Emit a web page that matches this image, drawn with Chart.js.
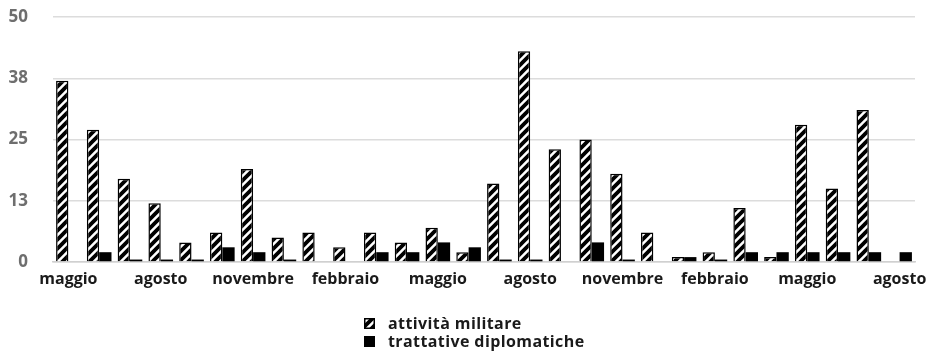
<!DOCTYPE html>
<html>
<head>
<meta charset="utf-8">
<script src="https://cdn.jsdelivr.net/npm/chart.js@4/dist/chart.umd.min.js"></script>
<style>
  html, body { margin: 0; padding: 0; background: #fff; }
  #wrap { position: relative; width: 932px; height: 354px; }
  #legend { position: absolute; left: 364px; top: 314px; font-family: "Open Sans", sans-serif; font-size: 16px; font-weight: 700; color: #1a1a1a; line-height: 18px; letter-spacing: 0.4px; }
  #legend .row { display: flex; align-items: center; }
  #legend canvas, #legend .sw { width: 11px; height: 11px; margin-right: 13px; display: block; }
  #legend .sw { background: #000; }
</style>
</head>
<body>
<div id="wrap">
  <canvas id="c" width="932" height="354"></canvas>
  <div id="legend"></div>
</div>
<script>
const months = ["maggio","giugno","luglio","agosto","settembre","ottobre","novembre","dicembre","gennaio","febbraio","marzo","aprile",
                "maggio","giugno","luglio","agosto","settembre","ottobre","novembre","dicembre","gennaio","febbraio","marzo","aprile",
                "maggio","giugno","luglio","agosto"];
const shownEvery = 3;
const seriesNames = ["attività militare", "trattative diplomatiche"];
const attivitaMilitare = [37, 27, 17, 12, 4, 6, 19, 5, 6, 3, 6, 4, 7, 2, 16, 43, 23, 25, 18, 6, 1, 2, 11, 1, 28, 15, 31, 0];
const trattativeDiplomatiche = [0, 2, 0.5, 0.5, 0.5, 3, 2, 0.5, 0, 0, 2, 2, 4, 3, 0.5, 0.5, 0, 4, 0.5, 0, 1, 0.5, 2, 2, 2, 2, 2, 2];
const yTicks = [0, 12.5, 25, 37.5, 50];

function makeHatch() {
  const p = document.createElement('canvas');
  p.width = 9; p.height = 9;
  const g = p.getContext('2d');
  g.fillStyle = '#fff';
  g.fillRect(0, 0, 9, 9);
  g.strokeStyle = '#000';
  g.lineWidth = 3.8;
  g.lineCap = 'square';
  g.beginPath();
  g.moveTo(-1, 10); g.lineTo(10, -1);
  g.moveTo(-5.5, 5.5); g.lineTo(5.5, -5.5);
  g.moveTo(3.5, 14.5); g.lineTo(14.5, 3.5);
  g.stroke();
  return p;
}
const hatchCanvas = makeHatch();
const ctx = document.getElementById('c').getContext('2d');
const hatch = ctx.createPattern(hatchCanvas, 'repeat');

new Chart(ctx, {
  type: 'bar',
  data: {
    labels: months,
    datasets: [
      { label: seriesNames[0], data: attivitaMilitare, backgroundColor: hatch, borderColor: '#000', borderWidth: 1.5, categoryPercentage: 0.8, barPercentage: 1.0 },
      { label: seriesNames[1], data: trattativeDiplomatiche, backgroundColor: '#000', borderColor: '#000', borderWidth: 0, categoryPercentage: 0.8, barPercentage: 1.0 }
    ]
  },
  options: {
    responsive: false,
    animation: false,
    layout: { padding: { left: 0, right: 17, top: 17, bottom: 62 } },
    plugins: { legend: { display: false }, tooltip: { enabled: false } },
    scales: {
      x: {
        grid: { display: false },
        border: { color: '#d0d0d0', width: 1.5 },
        afterFit: s => { s.height = 30; },
        ticks: {
          autoSkip: false, maxRotation: 0, padding: 0,
          color: '#1a1a1a',
          font: { family: 'Open Sans', size: 16, weight: '700' },
          callback: function (v, i) { return i % shownEvery === 0 ? months[i] : ''; }
        }
      },
      y: {
        min: 0, max: 50,
        afterFit: s => { s.width = 53; s.paddingTop = 8; s.paddingBottom = 0; },
        afterBuildTicks: s => { s.ticks = yTicks.map(v => ({ value: v })); },
        grid: { color: '#dcdcdc', lineWidth: 1.5, drawTicks: false },
        border: { display: false },
        ticks: {
          padding: 25,
          color: '#6e6e6e',
          font: { family: 'Open Sans', size: 17, weight: '700' },
          callback: v => String(Math.round(v))
        }
      }
    }
  }
});

const legend = document.getElementById('legend');
seriesNames.forEach((name, i) => {
  const row = document.createElement('div');
  row.className = 'row';
  let sw;
  if (i === 0) {
    sw = document.createElement('canvas');
    sw.width = 11; sw.height = 11;
    const g = sw.getContext('2d');
    g.fillStyle = g.createPattern(hatchCanvas, 'repeat');
    g.fillRect(0, 0, 11, 11);
    g.strokeStyle = '#000'; g.lineWidth = 1.5; g.strokeRect(0.75, 0.75, 9.5, 9.5);
  } else {
    sw = document.createElement('div');
    sw.className = 'sw';
  }
  row.appendChild(sw);
  const t = document.createElement('span');
  t.textContent = name;
  row.appendChild(t);
  legend.appendChild(row);
});
</script>
</body>
</html>
